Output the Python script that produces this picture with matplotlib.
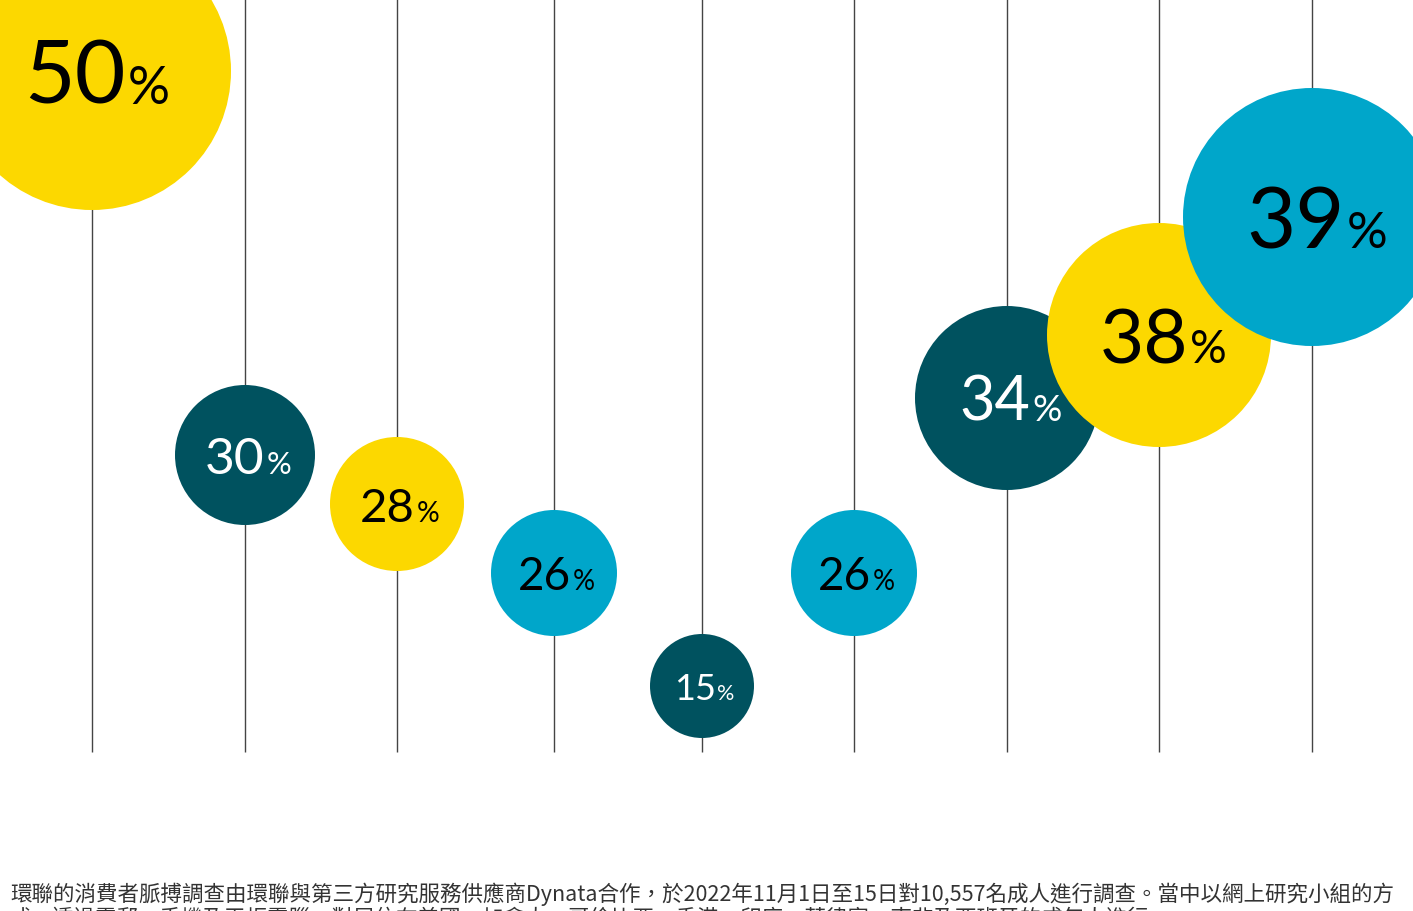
import matplotlib
matplotlib.use("Agg")
import matplotlib.pyplot as plt
from matplotlib.patches import Circle

# survey shares, left to right
values = [50, 30, 28, 26, 15, 26, 34, 38, 39]
labels = [f"{v}" for v in values]

# layout (pixels)
col_x = [92, 245, 397, 554, 702, 854, 1007, 1159, 1312]
ctr_y = [72, 456, 505, 574, 687, 574, 399, 336, 218]
radius = [139, 70, 67, 63, 52, 63, 92, 112, 129]

YELLOW = "#FCD800"
TEAL = "#00525F"
BLUE = "#00A6CA"
fill = [YELLOW, TEAL, YELLOW, BLUE, TEAL, BLUE, TEAL, YELLOW, BLUE]
txtcol = ["black", "white", "black", "black", "white", "black", "white", "black", "black"]
digit_fs = [63, 37, 34, 33, 26, 33, 44, 55, 61]

note1 = ("環聯的消費者脈搏調查由環聯與第三方研究服務供應商Dynata合作，於2022年11月1日至15日"
         "對10,557名成人進行調查。當中以網上研究小組的方")
note2 = ("式，透過電郵、手機及平板電腦，對居住在美國、加拿大、哥倫比亞、香港、印度、菲律賓、"
         "南非及西班牙的成年人進行")

W, H = 1413, 912
fig = plt.figure(figsize=(W / 100, H / 100), dpi=100)
ax = fig.add_axes([0, 0, 1, 1])
ax.set_xlim(0, W)
ax.set_ylim(H, 0)
ax.axis("off")

# vertical guide lines
ax.vlines(col_x, 0, 753, colors="#444444", linewidth=1.0, zorder=1)

renderer = fig.canvas.get_renderer()
for i, v in enumerate(values):
    cx, cy, r = col_x[i], ctr_y[i], radius[i]
    ax.add_patch(Circle((cx, cy), r, facecolor=fill[i], edgecolor="none", zorder=2 + i))
    fs = digit_fs[i]
    pfs = fs * 0.6
    base = cy + fs * 0.5
    t1 = ax.text(0, base, labels[i], fontsize=fs, family="Lato", color=txtcol[i],
                 ha="left", va="baseline", zorder=20)
    t2 = ax.text(0, base, "%", fontsize=pfs, family="Lato", color=txtcol[i],
                 ha="left", va="baseline", zorder=20)
    w1 = t1.get_window_extent(renderer).width
    w2 = t2.get_window_extent(renderer).width
    gap = fs * 0.04
    left = cx + fs * 0.08 - (w1 + gap + w2) / 2
    t1.set_x(left)
    t2.set_x(left + w1 + gap)

ax.text(10, 894, note1, fontsize=15.5, family=["Noto Sans CJK TC", "DejaVu Sans"],
        color="#333333", ha="left", va="center")
ax.text(10, 919, note2, fontsize=15.5, family=["Noto Sans CJK TC", "DejaVu Sans"],
        color="#333333", ha="left", va="center")

fig.savefig("out.png", dpi=100)
